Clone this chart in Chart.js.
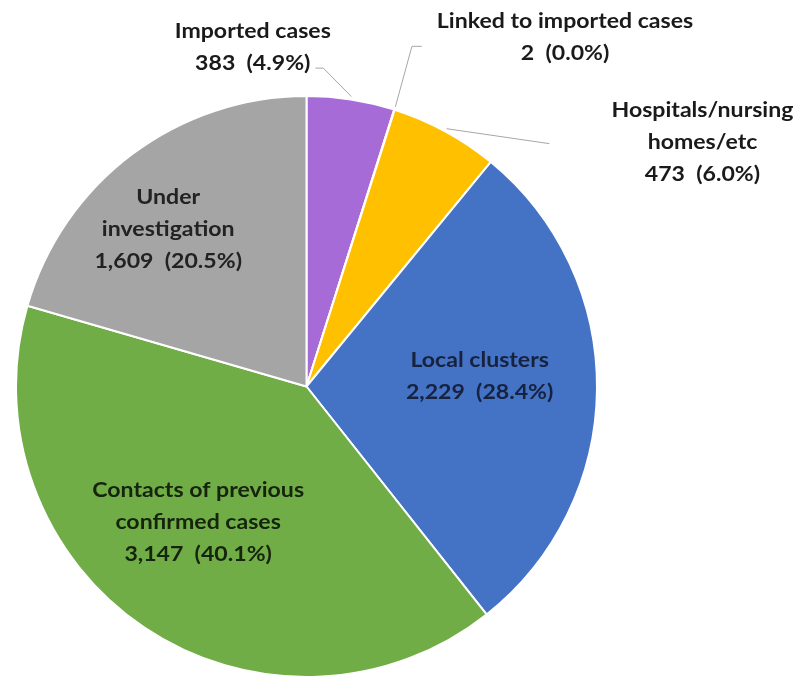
<!DOCTYPE html>
<html>
<head>
<meta charset="utf-8">
<title>Sources of cases</title>
<script src="https://cdn.jsdelivr.net/npm/chart.js@4/dist/chart.umd.min.js"></script>
<style>
  body { margin: 0; background: #fff; }
  #wrap { width: 804px; height: 678px; }
</style>
</head>
<body>
<div id="wrap"><canvas id="sourcesPieChart" width="804" height="678"></canvas></div>
<script>
const categories = [
    'Imported cases',
    'Linked to imported cases',
    'Hospitals/nursing homes/etc',
    'Local clusters',
    'Contacts of previous confirmed cases',
    'Under investigation'
];
const caseCounts = [383, 2, 473, 2229, 3147, 1609];
// label lines as they are broken in the picture
const labelLines = [
    ['Imported cases'],
    ['Linked to imported cases'],
    ['Hospitals/nursing', 'homes/etc'],
    ['Local clusters'],
    ['Contacts of previous', 'confirmed cases'],
    ['Under', 'investigation']
];
const sliceColors = ['#a66bd6', '#ed7d31', '#ffc000', '#4472c4', '#70ad47', '#a5a5a5'];
const labelColors = ['#1a1a1a', '#1a1a1a', '#1a1a1a', '#17223f', '#16240d', '#222222'];

// where each label sits, in pie radii from the centre; leader = elbow points
const labelPlacement = [
    { at: [-0.185, -1.168], leader: [[0.058, -1.096], [0.031, -1.096]] },
    { at: [0.890, -1.202], leader: [[0.363, -1.171], [0.397, -1.171]] },
    { at: [1.363, -0.842], leader: [[0.836, -0.836]] },
    { at: [0.596, -0.034], leader: null },
    { at: [-0.373, 0.466], leader: null },
    { at: [-0.476, -0.541], leader: null }
];

const total = caseCounts.reduce((a, b) => a + b, 0);

function valueLine(v) {
    return v.toLocaleString('en-US') + '  (' + (v / total * 100).toFixed(1) + '%)';
}

const pieLabels = {
    id: 'pieLabels',
    afterDatasetsDraw(chart) {
        const ctx = chart.ctx;
        const arcs = chart.getDatasetMeta(0).data;
        const stretch = 1.1; // source text is a bit wider than Lato
        ctx.save();
        arcs.forEach((arc, i) => {
            const cx = arc.x, cy = arc.y, r = arc.outerRadius;
            const place = labelPlacement[i];
            if (place.leader) {
                const mid = (arc.startAngle + arc.endAngle) / 2;
                ctx.beginPath();
                ctx.strokeStyle = '#a6a6a6';
                ctx.lineWidth = 1;
                ctx.moveTo(cx + Math.cos(mid) * r * 1.01, cy + Math.sin(mid) * r * 1.01);
                place.leader.forEach(p => ctx.lineTo(cx + p[0] * r, cy + p[1] * r));
                ctx.stroke();
            }
            const lines = labelLines[i].concat([valueLine(caseCounts[i])]);
            const lh = 32;
            const tx = cx + place.at[0] * r;
            let ty = cy + place.at[1] * r - (lines.length - 1) * lh / 2;
            lines.forEach(line => {
                ctx.save();
                ctx.translate(tx, ty);
                ctx.scale(stretch, 1);
                ctx.font = 'bold 21px Lato';
                ctx.textAlign = 'center';
                ctx.textBaseline = 'middle';
                ctx.fillStyle = labelColors[i];
                ctx.fillText(line, 0, 0);
                ctx.restore();
                ty += lh;
            });
        });
        ctx.restore();
    }
};

new Chart(document.getElementById('sourcesPieChart').getContext('2d'), {
    type: 'pie',
    data: {
        labels: categories,
        datasets: [{
            data: caseCounts,
            backgroundColor: sliceColors,
            borderColor: '#ffffff',
            borderWidth: 2
        }]
    },
    options: {
        responsive: false,
        animation: false,
        layout: { padding: { top: 95, bottom: 0, left: 15, right: 206 } },
        plugins: {
            legend: { display: false },
            tooltip: { enabled: false }
        }
    },
    plugins: [pieLabels]
});
</script>
</body>
</html>
